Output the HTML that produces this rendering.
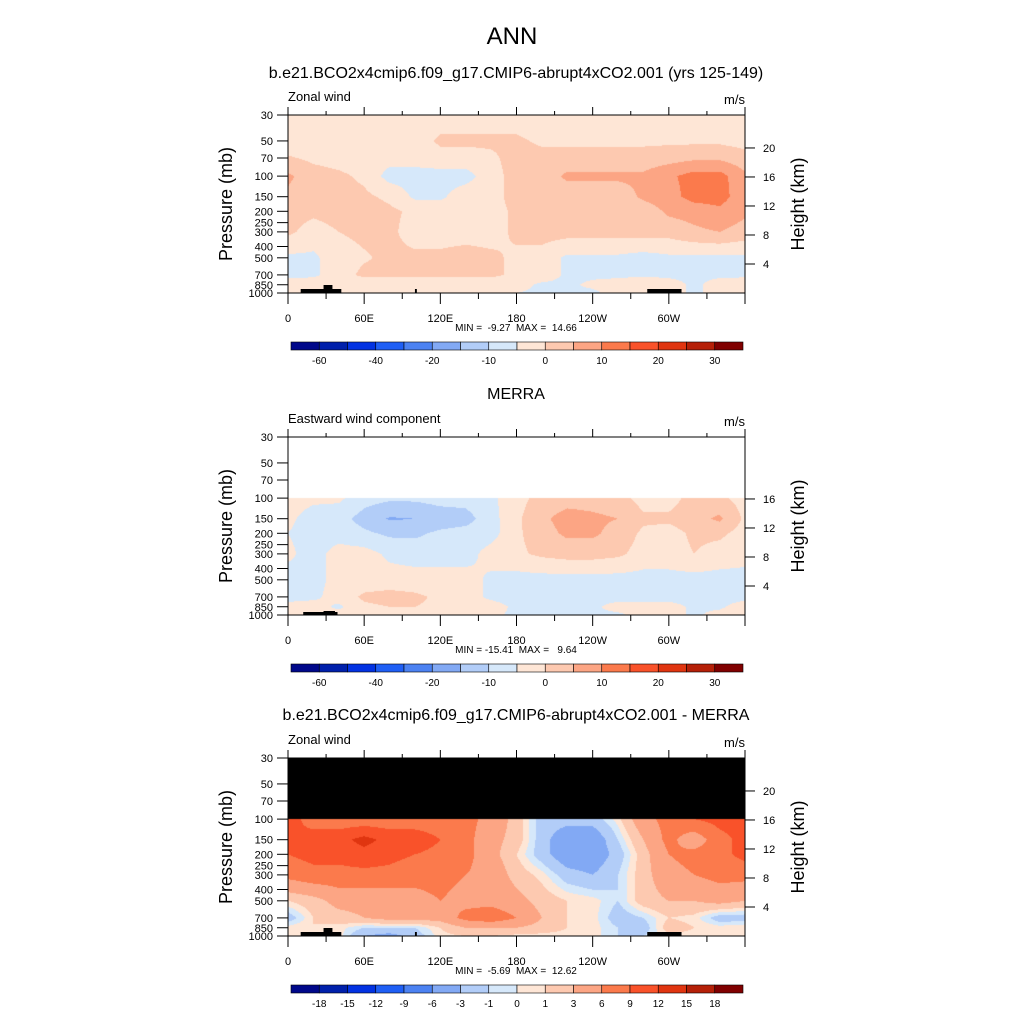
<!DOCTYPE html>
<html><head><meta charset="utf-8">
<style>
html,body{margin:0;padding:0;background:#fff;}
#wrap{position:relative;width:1024px;height:1024px;overflow:hidden;font-family:"Liberation Sans",sans-serif;}
canvas{position:absolute;}
svg{position:absolute;left:0;top:0;}
text{font-family:"Liberation Sans",sans-serif;fill:#000;white-space:pre;}
</style></head>
<body>
<div id="wrap">
<canvas id="c1" width="457" height="178" style="left:288px;top:115px"></canvas>
<canvas id="c2" width="457" height="178" style="left:288px;top:437px"></canvas>
<canvas id="c3" width="457" height="178" style="left:288px;top:758px"></canvas>
<svg id="ov" width="1024" height="1024">
<text x="512" y="44" text-anchor="middle" font-size="24">ANN</text>
<text x="516" y="78" text-anchor="middle" font-size="16">b.e21.BCO2x4cmip6.f09_g17.CMIP6-abrupt4xCO2.001 (yrs 125-149)</text>
<text x="516" y="399" text-anchor="middle" font-size="16">MERRA</text>
<text x="516" y="720" text-anchor="middle" font-size="16">b.e21.BCO2x4cmip6.f09_g17.CMIP6-abrupt4xCO2.001 - MERRA</text>
</svg>
</div>
<script>
// ---------- data ----------
const lons = [0,20,40,60,80,100,120,140,160,180,200,220,240,260,280,300,320,340,360];
const presFull = [30,50,70,100,150,200,300,500,700,850,1000];
const presLow = [100,150,200,300,500,700,850,1000];
const levels1 = [-60,-50,-40,-30,-20,-15,-10,-5,0,5,10,15,20,25,30];
const levelLabels1 = ["-60","","-40","","-20","","-10","","0","","10","","20","","30"];
const levels3 = [-18,-15,-12,-9,-6,-3,-1,0,1,3,6,9,12,15,18];
const levelLabels3 = ["-18","-15","-12","-9","-6","-3","-1","0","1","3","6","9","12","15","18"];
const palette = ["#00088a","#0020ab","#0232e2","#1f5ff5","#4c82f2","#82a9f4","#b2cdf8","#d6e8fa","#fee6d6","#fdc9b0","#fca584","#fb7a4c","#f9522a","#e03510","#b52008","#800000"];
const stats = ["MIN =  -9.27  MAX =  14.66","MIN = -15.41  MAX =   9.64","MIN =  -5.69  MAX =  12.62"];

const model = [
 [-3,-3,-3,-3,-3,-3,-3,-3,-3,-3,-3,-3,-3,-3,-3,-3,-3,-3,-3],
 [-3,-3,-3,-3,-3,-3,1,1,1,1,-1,-1,-1,-1,-1,-1,-1,-1,-2],
 [0.5,-1,-2,-3,-3,-3,-2,-2,-1,2,2,2,2,2,2,3,4,4,2],
 [6,2,1,-1,-7,-7,-7,-7,-2,2,2,6,6,6,6,9,12,12,6],
 [4,2,2,1,-1,-6,-6,-2,-2,2,2,2,2,2,6,8,12,12,7],
 [2,1,2,2,1,-1,-2,-2,-2,1,2,2,2,2,2,6,7,9,6],
 [1,-2,0,1,1,-2,-2,-2,-2,1,2,2,2,2,2,2,4,5,3],
 [-6,-6,-2,-0.5,1,1,1,2,1,-1,-2,-6,-6,-6,-7,-6,-6,-6,-6],
 [-6,-6,-2,1,1,1,1,1,1,-1,-2,-6,-6,-6,-6,-6,-6,-6,-6],
 [-3,-2,-3,-3,-3,-3,-3,-3,-3,-3,-6,-6,-4,-3,-1,-3,-6,-3,-2],
 [0,-1,-3,-3,-3,-3,-3,-3,-3,-5,-6,-6,-6,-3,-3,-3,-6,-3,0]
];
const merra = [
 [-3,-4,-4,-8,-9,-9,-8,-8,-6,-2,2,3,3,2,-2,-2,2,1,-2],
 [-4,-7,-8,-12,-15.5,-15,-13,-12,-7,-1,4,7,6,5,1,1,3,6,-1],
 [-5,-7,-7,-9,-11,-11,-9,-8,-7,-1,3,6,6,3,-1,-2,1,1,-2],
 [-4,-7,-3,-3,-6,-7,-7,-7,-3,-1,1,2,2,1,-2,-2,0,-2,-3],
 [-7,-7,-3,-3,-3,-3,-3,-3,-6,-7,-7,-7,-7,-7,-7,-7,-7,-7,-7],
 [-7,-6,-3,1,2,1,-1,-3,-6,-7,-7,-7,-7,-7,-7,-7,-7,-7,-7],
 [-3,-3,-6,-1,0,0,-1,-3,-3,-6,-7,-7,-6,-3,-3,-3,-6,-6,-2],
 [0,-3,-3,-3,-3,-3,-3,-3,-4,-6,-6,-6,-6,-6,-3,-3,-6,-3,-2]
];
const diff = [
 [10,8,7,7,7,7,7,7,5,2,-2,-2,-2,0.5,5,7,9,10,10],
 [9,10,11,13,11,11,9,7,4,2,-2,-5,-5,-1,3,7,4,8,10],
 [9,10,10,11,10,9,8,7,4,1,-2,-5,-5,-2,2,6,7,8,10],
 [7,8,8,8,8,7,7,6,5,2,0.5,-2,-3,-1,2,5,6,7,7],
 [1,2,4,4,4,5,6,5,5,4,2,1,0.5,-1,2,3,3,4,3],
 [-2,1,2,3,4,4,4,7,8,6,3,1,0.5,-2,-1,1,0.5,-2,-2],
 [0.5,1,0.5,-1,-1,-1,1,3,3,3,2,1,0.5,-1,-2,2,1,0.5,1],
 [1,1,0.5,-3,-4,-2,0.5,1,1,0.5,0.5,0.5,0.5,-1,-1,0.5,0.5,0.5,1]
];
const xTickLabels = ["0","60E","120E","180","120W","60W",""];
const pTicks = [30,50,70,100,150,200,250,300,400,500,700,850,1000];
const hTicks = [4,8,12,16,20];

// ---------- geometry ----------
const X0=288, W=457, H=178, PTOP=30, PBOT=1000;
const KY = H/Math.log(PBOT/PTOP);
function xOf(lon){return X0+lon/360*W;}
function yOf(p,y0){return y0+Math.log(p/PTOP)*KY;}
function hex(c){return [parseInt(c.slice(1,3),16),parseInt(c.slice(3,5),16),parseInt(c.slice(5,7),16)];}
const pal = palette.map(hex);
function classify(v,lv){let k=0;while(k<lv.length&&v>=lv[k])k++;return k;}

function interp(grid,pres,lon,p){
  const lp=Math.log(p);
  let r=0; while(r<pres.length-2 && lp>Math.log(pres[r+1])) r++;
  let t=(lp-Math.log(pres[r]))/(Math.log(pres[r+1])-Math.log(pres[r]));
  t=Math.max(0,Math.min(1,t));
  let c=Math.min(17,Math.floor(lon/20)); let s=(lon-lons[c])/20;
  const a=grid[r][c]*(1-s)+grid[r][c+1]*s;
  const b=grid[r+1][c]*(1-s)+grid[r+1][c+1]*s;
  return a*(1-t)+b*t;
}
function drawField(id,grid,pres,lv,above){
  const cv=document.getElementById(id),ctx=cv.getContext('2d');
  const img=ctx.createImageData(W,H);
  for(let j=0;j<H;j++){
    const p=PTOP*Math.exp((j+0.5)/KY);
    for(let i=0;i<W;i++){
      let col;
      if(p<pres[0]){col=above;}
      else{const lon=(i+0.5)/W*360;col=pal[classify(interp(grid,pres,lon,p),lv)];}
      const o=(j*W+i)*4;img.data[o]=col[0];img.data[o+1]=col[1];img.data[o+2]=col[2];img.data[o+3]=255;
    }
  }
  ctx.putImageData(img,0,0);
}
drawField('c1',model,presFull,levels1,[255,255,255]);
drawField('c2',merra,presLow,levels1,[255,255,255]);
drawField('c3',diff,presLow,levels3,[0,0,0]);

// ---------- axes ----------
const NS='http://www.w3.org/2000/svg';
const svg=document.getElementById('ov');
function el(tag,attrs,txt){const e=document.createElementNS(NS,tag);for(const k in attrs)e.setAttribute(k,attrs[k]);if(txt!==undefined)e.textContent=txt;svg.appendChild(e);return e;}

function panel(idx,y0,leftLabel,showH,levels,labels,topoBig){
  const yb=y0+H;
  const topo = topoBig ? [[10,42,4],[28,35,8],[100,101.5,4],[283,310,4]] : [[12,39,3],[28,37,4]];
  topo.forEach(t=>{const r=el('rect',{x:xOf(t[0]),y:yb-t[2],width:xOf(t[1])-xOf(t[0]),height:t[2],fill:'#000'});
    
    });
  const fr=el('rect',{x:X0,y:y0,width:W,height:H,fill:'none',stroke:'#000','stroke-width':1});
  
  
  const lt=el('text',{x:X0,y:y0-14,'font-size':13},leftLabel);
  
  
  const ut=el('text',{x:X0+W,y:y0-11,'font-size':13,'text-anchor':'end'},'m/s');
  
  
  for(let lon=0;lon<=360;lon+=30){
    const x=xOf(lon),maj=lon%60===0;
    el('line',{x1:x,x2:x,y1:yb,y2:yb+(maj?11:6),stroke:'#000'});
    el('line',{x1:x,x2:x,y1:y0,y2:y0-(maj?8:4),stroke:'#000'});
    if(maj&&xTickLabels[lon/60]){const t=el('text',{x:x,y:yb+29,'font-size':11,'text-anchor':'middle'},xTickLabels[lon/60]);
      
      }
  }
  pTicks.forEach(p=>{const y=yOf(p,y0);el('line',{x1:X0-11,x2:X0,y1:y,y2:y,stroke:'#000'});
    const t=el('text',{x:X0-15,y:y+4,'font-size':11,'text-anchor':'end'},String(p));
    
    });
  const yt=el('text',{x:0,y:0,'font-size':18,'text-anchor':'middle',transform:`translate(232,${y0+H/2}) rotate(-90)`},'Pressure (mb)');
  
  
  hTicks.forEach(z=>{const p=1000*Math.exp(-z/7);if(p<presFull[0]||(!showH&&p<100))return;const y=yOf(p,y0);
    el('line',{x1:X0+W,x2:X0+W+10,y1:y,y2:y,stroke:'#000'});
    const t=el('text',{x:X0+W+18,y:y+4,'font-size':11},String(z));
    
    });
  const ht=el('text',{x:0,y:0,'font-size':18,'text-anchor':'middle',transform:`translate(804,${y0+H/2}) rotate(-90)`},'Height (km)');
  
  
  const st=el('text',{x:516,y:yb+38,'font-size':10,'text-anchor':'middle'},stats[idx-1]);
  
  
  const cy=yb+49,cx0=291,bw=(743-291)/16;
  for(let k=0;k<16;k++){const r=el('rect',{x:cx0+k*bw,y:cy,width:bw,height:8,fill:palette[k],stroke:'#000','stroke-width':0.6});
    
    }
  labels.forEach((l,k)=>{if(!l)return;const t=el('text',{x:cx0+(k+1)*bw,y:yb+71,'font-size':10,'text-anchor':'middle'},l);
    
    });
}
panel(1,115,'Zonal wind',true,levels1,levelLabels1,true);
panel(2,437,'Eastward wind component',false,levels1,levelLabels1,false);
panel(3,758,'Zonal wind',true,levels3,levelLabels3,true);
</script>
</body></html>
